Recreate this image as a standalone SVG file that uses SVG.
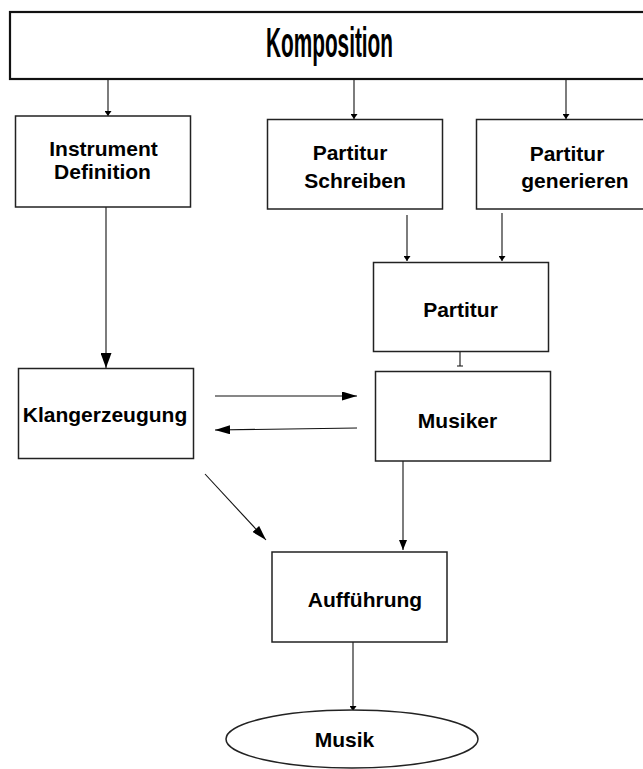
<svg xmlns="http://www.w3.org/2000/svg" width="643" height="769" viewBox="0 0 643 769">
  <style>
    .box { fill: #ffffff; stroke: #222222; stroke-width: 1.5; }
    .title-box { fill: #ffffff; stroke: #111111; stroke-width: 2.2; }
    .lbl { font-family: "Liberation Sans", Arial, sans-serif; font-weight: bold; font-size: 21px; fill: #000000; text-anchor: middle; }
    .title { font-family: "Liberation Sans", Arial, sans-serif; font-weight: bold; font-size: 43px; fill: #000000; text-anchor: middle; }
    .edge { fill: none; stroke: #111111; stroke-width: 1.1; }
  </style>
  <defs>
    <marker id="arrS" viewBox="0 0 10 10" refX="10" refY="5" markerWidth="5" markerHeight="7" markerUnits="userSpaceOnUse" preserveAspectRatio="none" orient="auto">
      <path d="M0,0 L10,5 L0,10 z" fill="#000"/>
    </marker>
    <marker id="arrM" viewBox="0 0 10 10" refX="10" refY="5" markerWidth="10" markerHeight="8" markerUnits="userSpaceOnUse" preserveAspectRatio="none" orient="auto">
      <path d="M0,0 L10,5 L0,10 z" fill="#000"/>
    </marker>
    <marker id="arrH" viewBox="0 0 10 10" refX="10" refY="5" markerWidth="15" markerHeight="9" markerUnits="userSpaceOnUse" preserveAspectRatio="none" orient="auto">
      <path d="M0,0 L10,5 L0,10 z" fill="#000"/>
    </marker>
    <marker id="arrL" viewBox="0 0 10 10" refX="10" refY="5" markerWidth="15" markerHeight="11" markerUnits="userSpaceOnUse" preserveAspectRatio="none" orient="auto">
      <path d="M0,0 L10,5 L0,10 z" fill="#000"/>
    </marker>
  </defs>

  <!-- connectors -->
  <g id="connectors">
    <line class="edge" x1="108" y1="80" x2="108" y2="116" marker-end="url(#arrS)"/>
    <line class="edge" x1="354" y1="80" x2="354" y2="119" marker-end="url(#arrS)"/>
    <line class="edge" x1="566" y1="80" x2="566" y2="119" marker-end="url(#arrS)"/>
    <line class="edge" x1="106" y1="207" x2="106" y2="368" marker-end="url(#arrL)"/>
    <line class="edge" x1="407" y1="215" x2="407" y2="261" marker-end="url(#arrS)"/>
    <line class="edge" x1="502" y1="213" x2="502" y2="261" marker-end="url(#arrS)"/>
    <path class="edge" d="M460,352 L460,366 M457,366 L463,366"/>
    <line class="edge" x1="215" y1="396" x2="357" y2="396" marker-end="url(#arrH)"/>
    <line class="edge" x1="357" y1="428" x2="215" y2="430" marker-end="url(#arrH)"/>
    <line class="edge" x1="205" y1="474" x2="266" y2="540" marker-end="url(#arrH)"/>
    <line class="edge" x1="403" y1="461" x2="403" y2="550" marker-end="url(#arrM)"/>
    <line class="edge" x1="353" y1="642" x2="353" y2="711" marker-end="url(#arrS)"/>
  </g>

  <g id="komposition">
    <rect class="title-box" x="10" y="12" width="650" height="67"/>
    <text class="title" x="329.5" y="56.7" textLength="127" lengthAdjust="spacingAndGlyphs">Komposition</text>
  </g>

  <g id="instrument-definition">
    <rect class="box" x="15.5" y="116" width="175" height="91"/>
    <text class="lbl" x="103.5" y="156">Instrument</text>
    <text class="lbl" x="102.5" y="179">Definition</text>
  </g>

  <g id="partitur-schreiben">
    <rect class="box" x="267.5" y="119.5" width="175" height="89.5"/>
    <text class="lbl" x="350" y="159.5">Partitur</text>
    <text class="lbl" x="355" y="187.5">Schreiben</text>
  </g>

  <g id="partitur-generieren">
    <rect class="box" x="476.5" y="119.5" width="180" height="89.5"/>
    <text class="lbl" x="567" y="160.5">Partitur</text>
    <text class="lbl" x="575" y="188">generieren</text>
  </g>

  <g id="partitur">
    <rect class="box" x="373.5" y="262.5" width="175" height="89"/>
    <text class="lbl" x="460.5" y="316.5">Partitur</text>
  </g>

  <g id="klangerzeugung">
    <rect class="box" x="18.5" y="368.5" width="175" height="90"/>
    <text class="lbl" x="105" y="421.5">Klangerzeugung</text>
  </g>

  <g id="musiker">
    <rect class="box" x="375.5" y="371.5" width="175" height="89.5"/>
    <text class="lbl" x="457.5" y="427.5">Musiker</text>
  </g>

  <g id="auffuehrung">
    <rect class="box" x="272" y="552" width="175" height="90"/>
    <text class="lbl" x="365" y="606.5">Aufführung</text>
  </g>

  <g id="musik">
    <ellipse class="box" cx="352" cy="739" rx="126" ry="29"/>
    <text class="lbl" x="344.5" y="746.5">Musik</text>
  </g>
</svg>
